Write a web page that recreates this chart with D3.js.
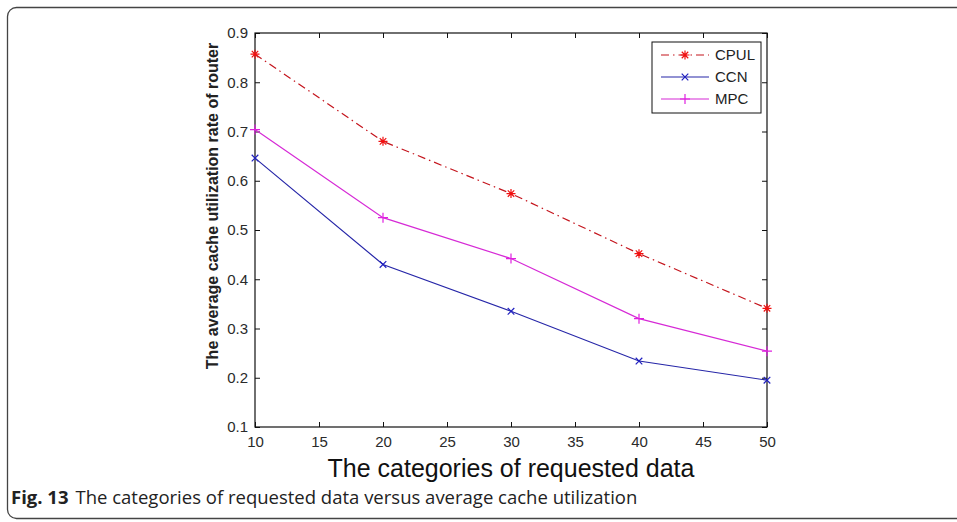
<!DOCTYPE html>
<html>
<head>
<meta charset="utf-8">
<script src="https://cdn.jsdelivr.net/npm/d3@7"></script>
<style>
  body { margin: 0; background: #fff; }
  svg { display: block; }
</style>
</head>
<body>
<div id="chart"></div>
<script>
// data ====================
var categories = [10, 20, 30, 40, 50];
var cpul = [0.857, 0.680, 0.574, 0.452, 0.341];
var ccn = [0.646, 0.430, 0.335, 0.234, 0.195];
var mpc = [0.704, 0.525, 0.442, 0.320, 0.254];
var seriesNames = ["CPUL", "CCN", "MPC"];
var xTicks = [10, 15, 20, 25, 30, 35, 40, 45, 50];
var yTicks = [0.1, 0.2, 0.3, 0.4, 0.5, 0.6, 0.7, 0.8, 0.9];

var width = 957, height = 522;
// plot box edges (can't call it "top", that's window.top)
var pLeft = 255, pRight = 767, pTop = 33, pBottom = 427;

var svg = d3.select('#chart')
  .append('svg')
  .attr('width', width)
  .attr('height', height);

// figure frame
svg.append('rect')
  .attr('x', 7.5).attr('y', 7.5)
  .attr('width', 1000).attr('height', 511)
  .attr('rx', 9).attr('ry', 9)
  .style('fill', 'none')
  .style('stroke', '#444')
  .style('stroke-width', 1.3);

var x = d3.scaleLinear().domain([10, 50]).range([pLeft, pRight]);
var y = d3.scaleLinear().domain([0.1, 0.9]).range([pBottom, pTop]);

var font = "'Liberation Sans', Arial, sans-serif";

// axes, ticks pointing inwards on all four sides
var gx = svg.append('g')
  .attr('transform', 'translate(0,' + pBottom + ')')
  .call(d3.axisBottom(x).tickValues(xTicks).tickFormat(d3.format('d'))
    .tickSizeInner(-5).tickSizeOuter(0).tickPadding(9));
var gy = svg.append('g')
  .attr('transform', 'translate(' + pLeft + ',0)')
  .call(d3.axisLeft(y).tickValues(yTicks).tickFormat(d3.format('.1f'))
    .tickSizeInner(-5).tickSizeOuter(0).tickPadding(7));
var gt = svg.append('g')
  .attr('transform', 'translate(0,' + pTop + ')')
  .call(d3.axisTop(x).tickValues(xTicks).tickFormat('')
    .tickSizeInner(-5).tickSizeOuter(0));
var gr = svg.append('g')
  .attr('transform', 'translate(' + pRight + ',0)')
  .call(d3.axisRight(y).tickValues(yTicks).tickFormat('')
    .tickSizeInner(-5).tickSizeOuter(0));

[gx, gy, gt, gr].forEach(function(g) {
  g.select('.domain').remove();
  g.selectAll('line').style('stroke', '#111');
  g.selectAll('text')
    .style('font-family', font)
    .style('font-size', '15px')
    .style('fill', '#2a2a2a');
});

// plot box
svg.append('rect')
  .attr('x', pLeft).attr('y', pTop)
  .attr('width', pRight - pLeft).attr('height', pBottom - pTop)
  .style('fill', 'none')
  .style('stroke', '#111')
  .style('stroke-width', 1.2);

// markers
var plusPath = function(s) { return 'M' + (-s) + ',0H' + s + 'M0,' + (-s) + 'V' + s; };
var crossPath = function(s) { return 'M' + (-s) + ',' + (-s) + 'L' + s + ',' + s + 'M' + (-s) + ',' + s + 'L' + s + ',' + (-s); };
var starPath = function(s) { return plusPath(s) + crossPath(s * 0.72); };

var series = [
  { name: seriesNames[0], values: cpul, line: '#c4141c', mark: '#f01010', dash: '8,4,1.5,4', marker: starPath(4.5) },
  { name: seriesNames[1], values: ccn, line: '#2626a8', mark: '#2020c0', dash: null, marker: crossPath(3.3) },
  { name: seriesNames[2], values: mpc, line: '#d62ad6', mark: '#e020e0', dash: null, marker: plusPath(5) }
];

var line = d3.line()
  .x(function(d) { return x(d[0]); })
  .y(function(d) { return y(d[1]); });

series.forEach(function(s) {
  var pts = categories.map(function(c, i) { return [c, s.values[i]]; });
  svg.append('path')
    .datum(pts)
    .attr('d', line)
    .style('fill', 'none')
    .style('stroke', s.line)
    .style('stroke-width', 1.2)
    .style('stroke-dasharray', s.dash);
  svg.selectAll(null)
    .data(pts)
    .enter()
    .append('path')
    .attr('transform', function(d) { return 'translate(' + x(d[0]) + ',' + y(d[1]) + ')'; })
    .attr('d', s.marker)
    .style('fill', 'none')
    .style('stroke', s.mark)
    .style('stroke-width', 1.2);
});

// legend
var legend = svg.append('g').attr('transform', 'translate(652,42)');
legend.append('rect')
  .attr('width', 109).attr('height', 71)
  .style('fill', '#fff')
  .style('stroke', '#111')
  .style('stroke-width', 1);
series.forEach(function(s, i) {
  var ly = 13 + i * 22;
  legend.append('line')
    .attr('x1', 9).attr('x2', 57).attr('y1', ly).attr('y2', ly)
    .style('stroke', s.line)
    .style('stroke-width', 1.2)
    .style('stroke-dasharray', s.dash);
  legend.append('path')
    .attr('transform', 'translate(33,' + ly + ')')
    .attr('d', s.marker)
    .style('fill', 'none')
    .style('stroke', s.mark)
    .style('stroke-width', 1.2);
  legend.append('text')
    .attr('x', 63).attr('y', ly)
    .attr('dy', '0.36em')
    .style('font-family', font)
    .style('font-size', '15px')
    .style('fill', '#222')
    .text(s.name);
});

// axis titles
svg.append('text')
  .attr('x', (pLeft + pRight) / 2)
  .attr('y', 477)
  .attr('text-anchor', 'middle')
  .style('font-family', font)
  .style('font-size', '25px')
  .style('fill', '#111')
  .text('The categories of requested data');

svg.append('text')
  .attr('transform', 'translate(218,206) rotate(-90)')
  .attr('text-anchor', 'middle')
  .style('font-family', font)
  .style('font-size', '16px')
  .style('font-weight', 'bold')
  .style('fill', '#222')
  .text('The average cache utilization rate of router');

// caption
var cap = svg.append('text')
  .attr('x', 11)
  .attr('y', 504)
  .style('font-family', "'Open Sans', sans-serif")
  .style('font-size', '18.5px')
  .style('fill', '#222');
cap.append('tspan').style('font-weight', 'bold').text('Fig. 13');
cap.append('tspan').attr('dx', 7).text('The categories of requested data versus average cache utilization');
</script>
</body>
</html>
